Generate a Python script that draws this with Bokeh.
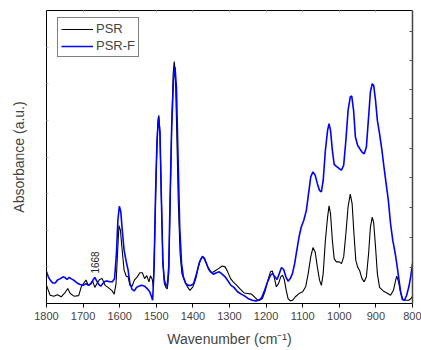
import math
from bokeh.plotting import figure
from bokeh.models import Range1d, LinearAxis, FixedTicker, Legend, LegendItem
from bokeh.core.properties import value
from bokeh.embed import file_html
from bokeh.resources import INLINE

# ---- data ----
psr_wn = [1800, 1795, 1790, 1780, 1770, 1760, 1750, 1742, 1735, 1725, 1712, 1705, 1698, 1692, 1686,
          1680, 1674, 1668, 1662, 1655, 1648, 1640, 1632, 1622, 1615, 1610, 1606, 1602, 1598, 1594,
          1588, 1582, 1577, 1572, 1566, 1560, 1552, 1545, 1538, 1532, 1526, 1520, 1516, 1511, 1508,
          1504, 1500, 1496, 1493, 1490, 1486, 1482, 1478, 1474, 1470, 1466, 1462, 1458, 1454, 1451,
          1448, 1444, 1440, 1435, 1430, 1422, 1414, 1408, 1400, 1392, 1385, 1378, 1372, 1365, 1357,
          1348, 1340, 1330, 1320, 1312, 1305, 1297, 1290, 1280, 1270, 1260, 1250, 1240, 1232, 1225,
          1218, 1210, 1202, 1195, 1188, 1183, 1178, 1172, 1166, 1160, 1155, 1150, 1145, 1140, 1134,
          1128, 1120, 1110, 1100, 1092, 1085, 1078, 1072, 1066, 1060, 1054, 1049, 1044, 1038, 1032,
          1028, 1024, 1019, 1014, 1008, 1000, 994, 988, 982, 976, 970, 965, 960, 955, 950,
          944, 938, 932, 926, 920, 915, 910, 906, 901, 896, 890, 880, 870, 860, 852,
          846, 843, 838, 832, 826, 818, 810, 804, 800]
psr_abs = [0.062, 0.045, 0.028, 0.025, 0.030, 0.023, 0.036, 0.051, 0.034, 0.025, 0.027, 0.057, 0.070, 0.080, 0.062,
           0.068, 0.077, 0.055, 0.068, 0.082, 0.085, 0.062, 0.055, 0.045, 0.032, 0.068, 0.170, 0.266, 0.250, 0.193,
           0.114, 0.093, 0.091, 0.062, 0.059, 0.080, 0.091, 0.105, 0.105, 0.085, 0.095, 0.074, 0.095, 0.082, 0.057,
           0.239, 0.466, 0.614, 0.642, 0.580, 0.352, 0.148, 0.068, 0.055, 0.050, 0.102, 0.352, 0.602, 0.784, 0.826,
           0.784, 0.580, 0.352, 0.170, 0.102, 0.074, 0.055, 0.045, 0.057, 0.085, 0.125, 0.153, 0.159, 0.142, 0.116,
           0.105, 0.111, 0.119, 0.128, 0.125, 0.108, 0.085, 0.074, 0.062, 0.048, 0.036, 0.034, 0.032, 0.023, 0.014,
           0.011, 0.017, 0.045, 0.080, 0.108, 0.111, 0.091, 0.057, 0.068, 0.091, 0.097, 0.080, 0.045, 0.017, 0.009,
           0.011, 0.023, 0.034, 0.040, 0.057, 0.102, 0.159, 0.191, 0.176, 0.125, 0.080, 0.062, 0.102, 0.216, 0.295,
           0.333, 0.307, 0.216, 0.153, 0.142, 0.142, 0.136, 0.159, 0.239, 0.330, 0.373, 0.341, 0.239, 0.148, 0.125,
           0.111, 0.085, 0.074, 0.091, 0.170, 0.261, 0.295, 0.275, 0.193, 0.102, 0.055, 0.043, 0.036, 0.028, 0.045,
           0.080, 0.093, 0.074, 0.034, 0.014, 0.011, 0.011, 0.017, 0.025]

psrf_wn = [1800, 1795, 1790, 1783, 1776, 1770, 1762, 1755, 1750, 1744, 1738, 1732, 1726, 1720, 1714,
           1708, 1700, 1692, 1685, 1678, 1672, 1668, 1664, 1658, 1652, 1646, 1640, 1634, 1628, 1620,
           1614, 1609, 1605, 1601, 1597, 1593, 1588, 1582, 1577, 1572, 1566, 1560, 1554, 1548, 1540,
           1532, 1525, 1518, 1513, 1510, 1506, 1502, 1498, 1494, 1490, 1486, 1482, 1478, 1474, 1470,
           1466, 1462, 1458, 1453, 1449, 1445, 1441, 1436, 1431, 1426, 1420, 1414, 1405, 1398, 1390,
           1382, 1374, 1368, 1360, 1352, 1344, 1336, 1328, 1320, 1312, 1304, 1296, 1288, 1278, 1268,
           1258, 1248, 1238, 1228, 1220, 1212, 1204, 1196, 1188, 1182, 1176, 1170, 1164, 1158, 1152,
           1146, 1140, 1134, 1128, 1122, 1116, 1110, 1104, 1097, 1090, 1084, 1078, 1072, 1066, 1060,
           1054, 1049, 1044, 1038, 1032, 1028, 1024, 1019, 1014, 1008, 1000, 994, 988, 982, 976,
           970, 966, 961, 956, 950, 944, 938, 932, 926, 920, 915, 910, 906, 901, 896,
           890, 884, 878, 872, 866, 860, 854, 848, 843, 838, 833, 828, 822, 816, 810,
           805, 800]
psrf_abs = [0.108, 0.091, 0.080, 0.070, 0.070, 0.080, 0.085, 0.091, 0.089, 0.082, 0.089, 0.084, 0.080, 0.074, 0.068,
            0.065, 0.062, 0.068, 0.062, 0.068, 0.082, 0.089, 0.080, 0.066, 0.059, 0.068, 0.076, 0.077, 0.074, 0.074,
            0.085, 0.170, 0.284, 0.332, 0.313, 0.250, 0.182, 0.142, 0.114, 0.068, 0.048, 0.043, 0.055, 0.059, 0.062,
            0.059, 0.051, 0.040, 0.023, 0.011, 0.125, 0.375, 0.557, 0.636, 0.585, 0.352, 0.136, 0.080, 0.062, 0.059,
            0.125, 0.375, 0.602, 0.761, 0.807, 0.739, 0.523, 0.261, 0.136, 0.091, 0.070, 0.062, 0.062, 0.068, 0.102,
            0.142, 0.161, 0.153, 0.127, 0.108, 0.100, 0.105, 0.108, 0.100, 0.091, 0.077, 0.062, 0.055, 0.040, 0.032,
            0.025, 0.016, 0.011, 0.009, 0.011, 0.020, 0.045, 0.074, 0.097, 0.102, 0.091, 0.082, 0.102, 0.123, 0.116,
            0.091, 0.076, 0.085, 0.102, 0.136, 0.182, 0.227, 0.261, 0.284, 0.318, 0.375, 0.432, 0.449, 0.438, 0.409,
            0.386, 0.381, 0.420, 0.523, 0.591, 0.614, 0.591, 0.523, 0.475, 0.468, 0.460, 0.455, 0.472, 0.557, 0.659,
            0.705, 0.708, 0.659, 0.568, 0.540, 0.528, 0.517, 0.511, 0.534, 0.636, 0.722, 0.750, 0.744, 0.693, 0.625,
            0.580, 0.528, 0.466, 0.409, 0.352, 0.273, 0.216, 0.176, 0.136, 0.091, 0.045, 0.014, 0.011, 0.028, 0.057,
            0.091, 0.136]

x_ticks = [1800, 1700, 1600, 1500, 1400, 1300, 1200, 1100, 1000, 900, 800]
left_ticks = [0.125, 0.25, 0.375, 0.5, 0.625, 0.75, 0.875]
right_ticks = [0.123, 0.225, 0.327, 0.43, 0.53, 0.63, 0.73, 0.83, 0.93]
annot_wn = [1668]
annot_y = [0.102]
annot_text = ["1668"]

FONT = "Liberation Sans"

p = figure(width=421, height=350, output_backend="svg", toolbar_location=None,
           x_range=Range1d(1800, 800), y_range=Range1d(0, 1),
           min_border_left=46, min_border_right=9, min_border_top=10, min_border_bottom=47)
p.outline_line_color = None
p.grid.visible = False
p.background_fill_color = "white"

r1 = p.line(psr_wn, psr_abs, line_color="black", line_width=1.1)
r2 = p.line(psrf_wn, psrf_abs, line_color="#0000ff", line_width=1.6)

p.text(x=annot_wn, y=annot_y, text=annot_text, angle=math.pi / 2,
       text_font=value(FONT), text_font_size="10px", text_color="#222222",
       text_align="left", text_baseline="middle")

# bottom axis
xa = p.xaxis[0]
xa.ticker = FixedTicker(ticks=x_ticks)
xa.minor_tick_line_color = None
xa.major_tick_out = 4
xa.major_tick_in = 0
xa.major_label_text_font = FONT
xa.major_label_text_font_size = "11px"
xa.major_label_standoff = 4
xa.axis_label = "Wavenumber (cm\u207b\u00b9)"
xa.axis_label_text_font = FONT
xa.axis_label_text_font_size = "14px"
xa.axis_label_text_font_style = "normal"
xa.axis_label_standoff = 8
xa.axis_line_color = "black"

# left axis (no labels)
ya = p.yaxis[0]
ya.ticker = FixedTicker(ticks=left_ticks)
ya.major_tick_in = 2
ya.major_tick_out = 0
ya.major_tick_line_color = "#bbbbbb"
ya.minor_tick_line_color = None
ya.major_label_text_color = None
ya.major_label_text_font_size = "1px"
ya.major_label_standoff = 0
ya.axis_label = "Absorbance (a.u.)"
ya.axis_label_text_font = FONT
ya.axis_label_text_font_size = "14px"
ya.axis_label_text_font_style = "normal"
ya.axis_label_standoff = 20
ya.axis_line_color = "black"

# right axis
ra = LinearAxis(ticker=FixedTicker(ticks=right_ticks),
                major_label_text_color=None, major_label_text_font_size="1px",
                major_label_standoff=0,
                major_tick_in=3, major_tick_out=0, minor_tick_line_color=None,
                major_tick_line_color="#555555", axis_line_color="#444444", axis_line_width=1.5)
p.add_layout(ra, "right")

# top axis
ta = LinearAxis(ticker=FixedTicker(ticks=x_ticks),
                major_label_text_color=None, major_label_text_font_size="1px",
                major_label_standoff=0, major_tick_in=2, major_tick_out=0,
                minor_tick_line_color=None, major_tick_line_color="#bbbbbb",
                axis_line_color="black")
p.add_layout(ta, "above")

legend = Legend(items=[LegendItem(label="PSR", renderers=[r1]),
                       LegendItem(label="PSR-F", renderers=[r2])],
                location=(11, 246))
legend.label_text_font = FONT
legend.label_text_font_size = "13px"
legend.glyph_width = 32
legend.glyph_height = 14
legend.label_height = 14
legend.spacing = 2
legend.padding = 3
legend.margin = 0
legend.label_standoff = 3
legend.border_line_color = "black"
legend.border_line_width = 1
legend.background_fill_alpha = 1
p.add_layout(legend, "center")

open("out.html", "w").write(file_html(p, INLINE))
